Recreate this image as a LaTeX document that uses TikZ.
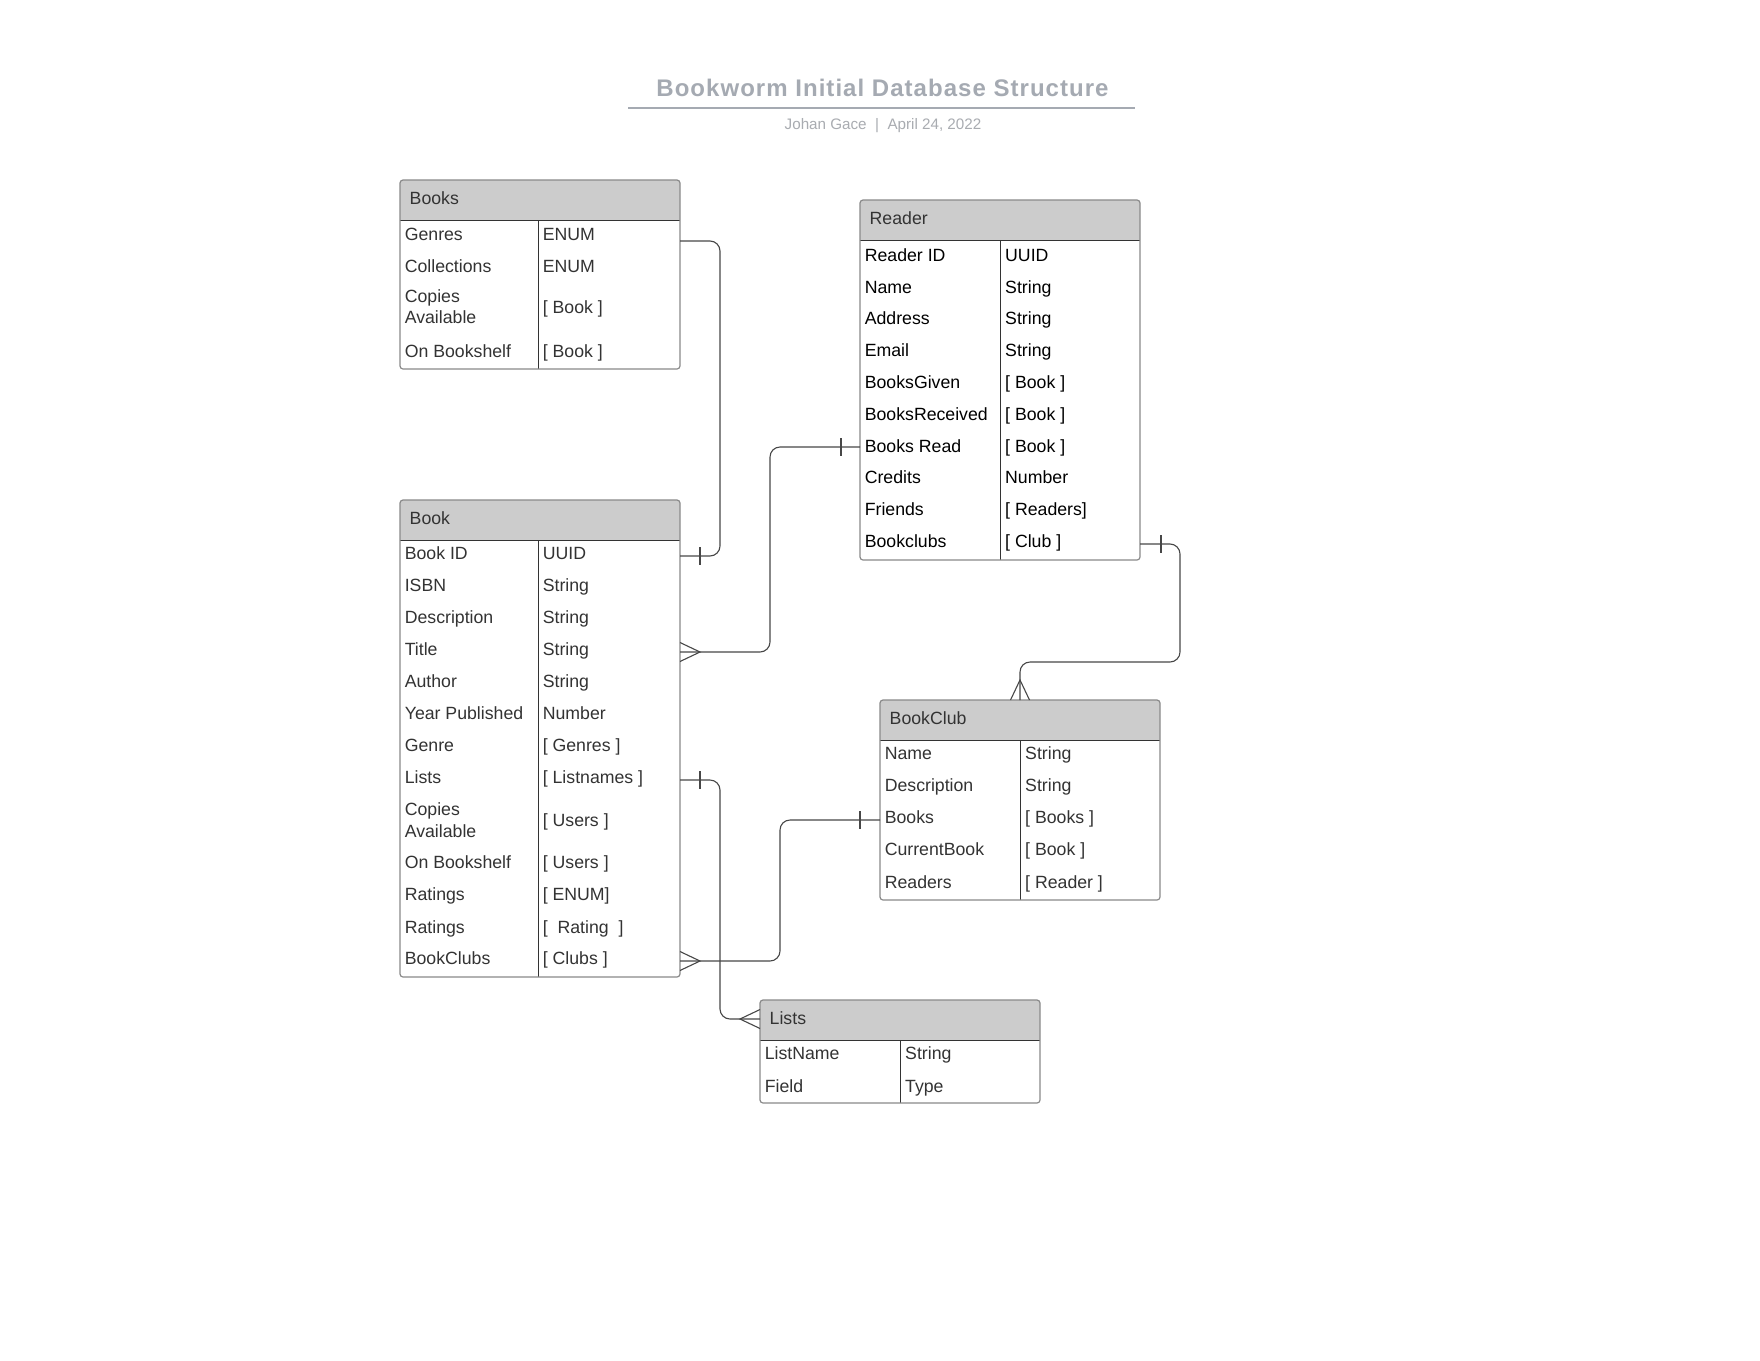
\documentclass[tikz,border=0pt]{standalone}
\usepackage{fontspec}
\setmainfont{Liberation Sans}
\usetikzlibrary{calc}
\definecolor{titlegray}{HTML}{A5AAB2}
\definecolor{subgray}{HTML}{A9ACB1}
\definecolor{hdrfill}{HTML}{CCCCCC}
\definecolor{framegray}{HTML}{8A8A8A}
\definecolor{innerline}{HTML}{333333}
\definecolor{txtdark}{HTML}{333333}
\definecolor{connline}{HTML}{474747}
\newcommand\erTable[7]{%
  \fill[hdrfill, rounded corners=3pt] (#2,#3+40) -- (#2,#3) -- (#2+#4,#3) -- (#2+#4,#3+40);
  \draw[divline] (#2,#3+40) -- (#2+#4,#3+40) (#2+#6,#3+40) -- (#2+#6,#3+#5);
  \node[tblframe, minimum width=#4pt, minimum height=#5pt] (#1) at (#2,#3) {};
  \node[cell] (#1-title) at (#2+9.5,#3+24.3) {#7};
}
\begin{document}
\begin{tikzpicture}[x=1pt,y=-1pt,
  tblframe/.style={draw=framegray, line width=1.2pt, rounded corners=3pt, rectangle, inner sep=0pt, outer sep=0pt, anchor=north west},
  divline/.style={draw=innerline, line width=1pt},
  cell/.style={anchor=base west, inner sep=0pt, text=txtdark, font=\fontsize{17.7}{21}\selectfont},
  rcell/.style={cell, text=black},
  conn/.style={draw=connline, line width=1.1pt},
  elbow/.style={conn, rounded corners=10pt},
]
\useasboundingbox (0,0) rectangle (1760,1360);
\fill[white] (0,0) rectangle (1760,1360);

% title
\node[anchor=base, inner sep=0pt, text=titlegray, font={\fontsize{24}{29}\selectfont\bfseries\addfontfeature{LetterSpace=4.3}}] (title) at (882.5,96.7) {Bookworm Initial Database Structure};
\draw[titlegray, line width=2pt] (628,107.7) -- (1135,107.7);
\node[anchor=base, inner sep=0pt, text=subgray, font=\fontsize{15.2}{18}\selectfont] (subtitle) at (883,129.3) {Johan Gace~~|~~April 24, 2022};

% Books
\erTable{books}{400}{180}{280}{189}{138.3}{Books}
\node[cell] (bsL1) at (404.6,240.3) {Genres};       \node[cell] (bsR1) at (542.6,240.3) {ENUM};
\node[cell] (bsL2) at (404.6,272.3) {Collections};  \node[cell] (bsR2) at (542.6,272.3) {ENUM};
\node[cell] (bsL3a) at (404.6,302) {Copies};
\node[cell] (bsL3b) at (404.6,323) {Available};     \node[cell] (bsR3) at (542.6,313.3) {[ Book ]};
\node[cell] (bsL4) at (404.6,357.3) {On Bookshelf}; \node[cell] (bsR4) at (542.6,357.3) {[ Book ]};

% Reader
\erTable{reader}{860}{200}{280}{360}{140.7}{Reader}
\foreach \i/\a/\b in {0/Reader ID/UUID, 1/Name/String, 2/Address/String, 3/Email/String,
  4/BooksGiven/{[ Book ]}, 5/BooksReceived/{[ Book ]}, 6/Books Read/{[ Book ]},
  7/Credits/Number, 8/Friends/{[ Readers]}, 9/Bookclubs/{[ Club ]}} {
  \node[rcell] (rdL\i) at (864.6,261.3+31.8*\i) {\a};
  \node[rcell] (rdR\i) at (1005,261.3+31.8*\i) {\b};
}

% Book
\erTable{book}{400}{500}{280}{477}{138.3}{Book}
\foreach \i/\a/\b in {0/Book ID/UUID, 1/ISBN/String, 2/Description/String, 3/Title/String,
  4/Author/String, 5/Year Published/Number, 6/Genre/{[ Genres ]}, 7/Lists/{[ Listnames ]}} {
  \node[cell] (bkL\i) at (404.6,559.3+32*\i) {\a};
  \node[cell] (bkR\i) at (542.6,559.3+32*\i) {\b};
}
\node[cell] (bkL8a) at (404.6,815.3) {Copies};
\node[cell] (bkL8b) at (404.6,837.3) {Available};    \node[cell] (bkR8) at (542.6,826.3) {[ Users ]};
\node[cell] (bkL9) at (404.6,868.3) {On Bookshelf};  \node[cell] (bkR9) at (542.6,868.3) {[ Users ]};
\node[cell] (bkL10) at (404.6,900.3) {Ratings};      \node[cell] (bkR10) at (542.6,900.3) {[ ENUM]};
\node[cell] (bkL11) at (404.6,933) {Ratings};        \node[cell] (bkR11) at (542.6,933) {[~~Rating~~]};
\node[cell] (bkL12) at (404.6,964.5) {BookClubs};    \node[cell] (bkR12) at (542.6,964.5) {[ Clubs ]};

% BookClub
\erTable{bookclub}{880}{700}{280}{200}{140.7}{BookClub}
\foreach \i/\a/\b in {0/Name/String, 1/Description/String, 2/Books/{[ Books ]},
  3/CurrentBook/{[ Book ]}, 4/Readers/{[ Reader ]}} {
  \node[cell] (bcL\i) at (884.6,759.6+32.1*\i) {\a};
  \node[cell] (bcR\i) at (1025,759.6+32.1*\i) {\b};
}

% Lists
\erTable{lists}{760}{1000}{280}{103}{140.7}{Lists}
\node[cell] (lsL0) at (764.6,1059.6) {ListName}; \node[cell] (lsR0) at (905,1059.6) {String};
\node[cell] (lsL1) at (764.6,1092) {Field};      \node[cell] (lsR1) at (905,1092) {Type};

% connector end points on the tables
\coordinate (c1a) at ([yshift=-61pt]books.north east);
\coordinate (c1b) at ([yshift=-56pt]book.north east);
\coordinate (c2a) at ([yshift=-247pt]reader.north west);
\coordinate (c2b) at ([yshift=-152pt]book.north east);
\coordinate (c3a) at ([yshift=-344pt]reader.north east);
\coordinate (c3b) at ([xshift=140pt]bookclub.north west);
\coordinate (c4a) at ([yshift=-280pt]book.north east);
\coordinate (c4b) at ([yshift=-19pt]lists.north west);
\coordinate (c5a) at ([yshift=-461pt]book.north east);
\coordinate (c5b) at ([yshift=-120pt]bookclub.north west);

% connectors
\draw[elbow] (c1a) -- ++(40,0) |- (c1b);
\draw[elbow] (c2a) -- ++(-90,0) |- (c2b);
\draw[elbow] (c3a) -- ++(40,0) -- ++(0,118) -| (c3b);
\draw[elbow] (c4a) -- ++(40,0) |- (c4b);
\draw[elbow] (c5a) -- ++(100,0) |- (c5b);

% one marks
\draw[conn] ($(c1b)+(20,-9)$) -- ($(c1b)+(20,9)$);
\draw[conn] ($(c2a)+(-19,-9)$) -- ($(c2a)+(-19,9)$);
\draw[conn] ($(c3a)+(21,-9)$) -- ($(c3a)+(21,9)$);
\draw[conn] ($(c4a)+(20,-9)$) -- ($(c4a)+(20,9)$);
\draw[conn] ($(c5b)+(-20,-9)$) -- ($(c5b)+(-20,9)$);

% crow's feet
\draw[conn] ($(c2b)+(0,-9.5)$) -- ($(c2b)+(20,0)$) -- ($(c2b)+(0,9.5)$);
\draw[conn] ($(c5a)+(0,-9.5)$) -- ($(c5a)+(20,0)$) -- ($(c5a)+(0,9.5)$);
\draw[conn] ($(c4b)+(0,-9.5)$) -- ($(c4b)+(-20,0)$) -- ($(c4b)+(0,9.5)$);
\draw[conn] ($(c3b)+(-9.5,0)$) -- ($(c3b)+(0,-20)$) -- ($(c3b)+(9.5,0)$);
\end{tikzpicture}
\end{document}
